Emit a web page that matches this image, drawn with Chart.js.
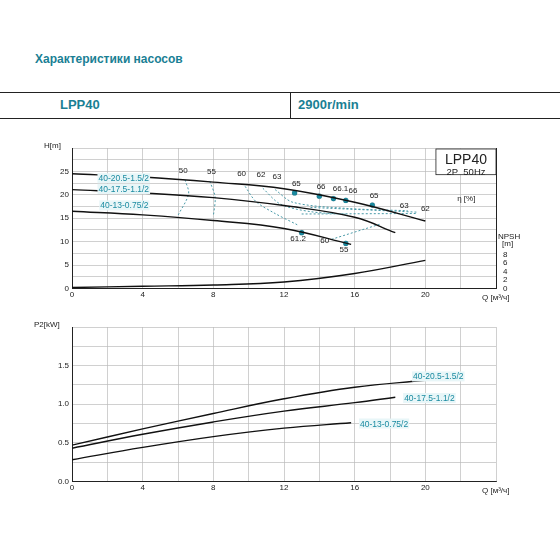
<!DOCTYPE html><html><head><meta charset="utf-8">
<script src="https://cdn.jsdelivr.net/npm/chart.js@4"></script>
<style>body{margin:0;width:560px;height:560px;background:#fff;font-family:"Liberation Sans",Arial;position:relative;overflow:hidden}
.t{position:absolute;color:#1a7f94;font-weight:bold}
canvas{position:absolute}</style></head><body>
<div class="t" style="left:35px;top:52px;font-size:12px;font-family:'Liberation Sans'">Характеристики насосов</div>
<div style="position:absolute;left:0;top:92px;width:560px;border-top:1px solid #222"></div>
<div style="position:absolute;left:0;top:118px;width:560px;border-top:1px solid #222"></div>
<div style="position:absolute;left:290px;top:92px;height:26px;border-left:1px solid #222"></div>
<div class="t" style="left:60px;top:97px;font-size:13px">LPP40</div>
<div class="t" style="left:298px;top:97px;font-size:13px">2900r/min</div>
<div id="w1" style="position:absolute;left:30px;top:138px;width:500px;height:164px"><canvas id="c1"></canvas></div>
<div id="w2" style="position:absolute;left:30px;top:318px;width:500px;height:177px"><canvas id="c2"></canvas></div>
<script>
const models=["40-20.5-1.5/2","40-17.5-1.1/2","40-13-0.75/2"];
const hQ=[[0,4,8,12,16,20],[0,4,8,12,16,18.3],[0,4,8,12,15.8]];
const hH=[[24.5,23.8,22.7,21.3,18.4,14.4],[21.1,20.4,19.4,17.7,15.2,11.9],[16.5,15.7,14.5,12.8,9.4]];
const npshQ=[0,4,8,12,16,20];
const npshV=[0.2,0.5,0.8,1.5,3.5,6.6];
const pQ=[[0,4,8,12,16,20],[0,4,8,12,16,18.3],[0,4,8,12,15.8]];
const pP=[[0.47,0.68,0.88,1.07,1.22,1.31],[0.43,0.61,0.77,0.91,1.02,1.09],[0.28,0.44,0.58,0.69,0.76]];
const effPts=[[12.6,20.4,"65"],[14,19.7,"66"],[14.8,19.2,"66.1"],[15.5,18.8,"66"],[17,17.8,"65"],[13,11.9,"61.2"],[15.5,9.6,"55"]];
const effLines=[
 {lab:"50",pts:[[6.4,23.2],[6.6,20.2],[6.0,15.6]]},
 {lab:"55",pts:[[7.8,22.9],[8.1,19.5],[8.0,15.4]]},
 {lab:"60",pts:[[9.8,21.8],[10.4,18.6],[11.4,16.2],[12.8,13.5]]},
 {lab:"62",pts:[[10.8,21.4],[11.8,18.0],[13.5,16.4],[15.6,15.8]]},
 {lab:"63",pts:[[11.5,21.1],[12.5,18.4],[15.5,17.1],[19.0,16.6]]},
 {lab:"",pts:[[13,15.9],[19.5,16.0]]},
 {lab:"",pts:[[13.5,17.3],[19.5,16.3]]},
 {lab:"",pts:[[14.7,10.5],[17.5,13.8]]}
];
const effLabels=[[6.3,24.6,"50"],[7.9,24.4,"55"],[9.6,24.0,"60"],[10.7,23.7,"62"],[11.6,23.4,"63"],[12.7,21.9,"65"],[14.1,21.2,"66"],[15.2,20.8,"66.1"],[15.9,20.3,"66"],[17.1,19.3,"65"],[18.8,17.2,"63"],[20.0,16.5,"62"],[12.8,10.2,"61.2"],[14.3,9.6,"60"],[15.4,7.8,"55"]];
const xTicks=[0,4,8,12,16,20];
const hTicks=[0,5,10,15,20,25];
const npshTicks=[0,2,4,6,8];
const pTicks=[0,0.5,1.0,1.5];
const teal="#1a8aa0";
Chart.defaults.font.family="'Liberation Sans',Arial";Chart.defaults.font.size=8;Chart.defaults.color="#222";
const grid={color:"#bbb",lineWidth:0.7};
function xs(){return{type:"linear",min:0,max:24,ticks:{stepSize:2,autoSkip:false,maxRotation:0,padding:2,callback:v=>xTicks.includes(v)?v:""},grid:{...grid,drawTicks:false},border:{color:"#222"}};}
const lineDs=(xsArr,ys,extra)=>({data:xsArr.map((x,i)=>({x,y:ys[i]})),borderColor:"#111",borderWidth:1.4,pointRadius:0,tension:0.4,fill:false,...extra});
const annot={id:"annot",afterDatasetsDraw(c,a,o){const g=c.ctx,x=c.scales.x,y=c.scales.y;g.save();g.font="8px 'Liberation Sans'";(o.fn||(()=>{}))(g,x,y,c);g.restore();}};
const ds1=[];
hQ.forEach((q,i)=>ds1.push(lineDs(q,hH[i])));
ds1.push(lineDs(npshQ,npshV,{yAxisID:"y2"}));
effLines.forEach(l=>ds1.push({data:l.pts.map(p=>({x:p[0],y:p[1]})),borderColor:"#4a9aa8",borderWidth:1,borderDash:[2,2],pointRadius:0,tension:0.3}));
ds1.push({type:"scatter",data:effPts.map(p=>({x:p[0],y:p[1]})),backgroundColor:teal,pointRadius:2.6});
new Chart(document.getElementById("c1"),{type:"line",data:{datasets:ds1},plugins:[annot],options:{animation:false,maintainAspectRatio:false,responsive:true,
layout:{padding:{top:10}},
plugins:{legend:{display:false},tooltip:{enabled:false},annot:{fn(g,x,y,c){
 g.fillStyle="#222";g.textAlign="center";
 effLabels.forEach(l=>g.fillText(l[2],x.getPixelForValue(l[0]),y.getPixelForValue(l[1])));
 g.textAlign="left";g.fillText("H[m]",x.left-28,y.top);
 g.fillText("Q [м³/ч]",x.right-14,y.bottom+12);
 g.fillText("η [%]",x.getPixelForValue(21.8),y.getPixelForValue(18.6));
 g.fillText("NPSH",x.right+2,y.getPixelForValue(10.5));g.fillText("[m]",x.right+6,y.getPixelForValue(9));
 const bx=x.getPixelForValue(20.6),by=y.top+1,bw=x.right-bx,bh=y.getPixelForValue(24.3)-by;
 g.fillStyle="#fff";g.fillRect(bx,by,bw,bh);g.strokeStyle="#222";g.lineWidth=0.8;g.strokeRect(bx,by,bw,bh);
 g.fillStyle="#222";g.textAlign="center";g.font="14px 'Liberation Sans'";g.fillText("LPP40",bx+bw/2,by+15);
 g.font="9.5px 'Liberation Sans'";g.fillText("2P  50Hz",bx+bw/2,by+26);
 g.font="8.5px 'Liberation Sans'";g.textAlign="left";
 [[1.5,22.9,models[0]],[1.5,20.6,models[1]],[1.6,17.1,models[2]]].forEach(l=>{const px=x.getPixelForValue(l[0]),py=y.getPixelForValue(l[1]);const w=g.measureText(l[2]).width;g.fillStyle="#e8f6f8";g.fillRect(px-1,py-8,w+2,10);g.fillStyle=teal;g.fillText(l[2],px,py);});
}}},
scales:{x:xs(),
y:{min:0,max:30,afterFit(s){s.width=42},ticks:{stepSize:2.5,autoSkip:false,padding:3,callback:v=>hTicks.includes(v)?v:""},grid:{...grid,drawTicks:false},border:{color:"#222"}},
y2:{position:"right",min:0,max:33,afterFit(s){s.width=34},afterBuildTicks(s){s.ticks=npshTicks.map(v=>({value:v}))},ticks:{padding:3},grid:{display:false,drawTicks:true,tickLength:4},border:{color:"#222"}}}}});

const ds2=pQ.map((q,i)=>lineDs(q,pP[i]));
new Chart(document.getElementById("c2"),{type:"line",data:{datasets:ds2},plugins:[annot],options:{animation:false,maintainAspectRatio:false,responsive:true,
layout:{padding:{top:9,right:34}},
plugins:{legend:{display:false},tooltip:{enabled:false},annot:{fn(g,x,y){
 g.fillStyle="#222";g.textAlign="left";g.fillText("P2[kW]",x.left-38,y.top);
 g.fillText("Q [м³/ч]",x.right-14,y.bottom+12);
 g.font="8.5px 'Liberation Sans'";
 [[19.3,1.36,models[0]],[18.8,1.08,models[1]],[16.3,0.75,models[2]]].forEach(l=>{const px=x.getPixelForValue(l[0]),py=y.getPixelForValue(l[1])+3;const w=g.measureText(l[2]).width;g.fillStyle="#e8f6f8";g.fillRect(px-1,py-8,w+2,10);g.fillStyle=teal;g.fillText(l[2],px,py);});
}}},
scales:{x:xs(),
y:{min:0,max:2,afterFit(s){s.width=42},ticks:{stepSize:0.25,autoSkip:false,padding:3,callback:v=>pTicks.includes(v)?v.toFixed(1):""},grid:{...grid,drawTicks:false},border:{color:"#222"}}}}});
</script></body></html>
